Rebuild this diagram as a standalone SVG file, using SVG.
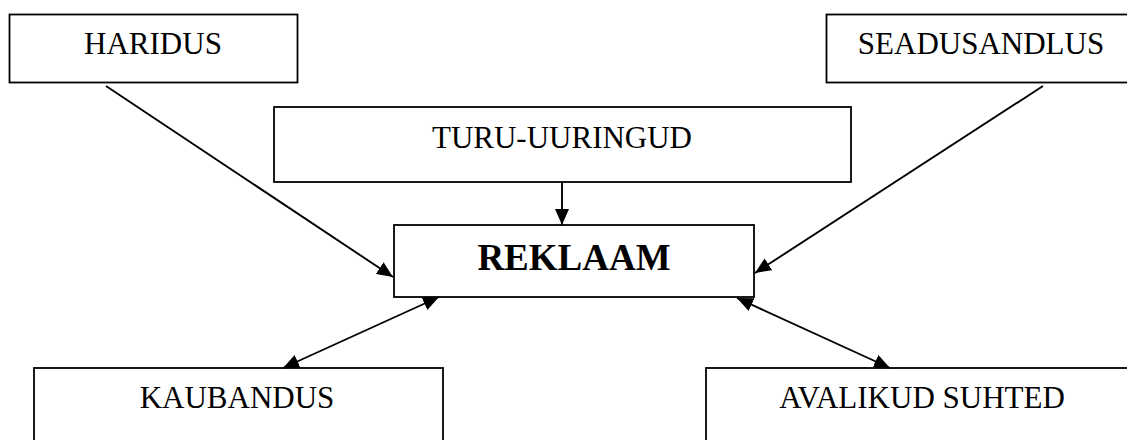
<svg xmlns="http://www.w3.org/2000/svg" width="1127" height="440" viewBox="0 0 1127 440">
<style>
.box{fill:#fff;stroke:#000;stroke-width:1.8}
.t{font-family:"Liberation Serif","Times New Roman",serif;font-size:31px;fill:#000;text-anchor:middle}
.b{font-weight:bold;font-size:37px}
.c{stroke:#000;stroke-width:1.9;fill:none}
</style>
<defs>
<marker id="ah" markerUnits="userSpaceOnUse" markerWidth="17" markerHeight="14" refX="16" refY="7" orient="auto-start-reverse">
<path d="M0,0 L16,7 L0,14 z" fill="#000"/>
</marker>
</defs>
<g id="haridus"><rect class="box" x="9.5" y="14.5" width="288" height="68"/><text class="t" x="153" y="54">HARIDUS</text></g>
<g id="seadusandlus"><rect class="box" x="826.5" y="14.5" width="320" height="68"/><text class="t" x="981" y="54">SEADUSANDLUS</text></g>
<g id="turu"><rect class="box" x="274" y="107" width="577" height="75"/><text class="t" x="562" y="148">TURU-UURINGUD</text></g>
<g id="reklaam"><rect class="box" x="394" y="225" width="360" height="72"/><text class="t b" x="574" y="270">REKLAAM</text></g>
<g id="kaubandus"><rect class="box" x="34" y="368" width="409" height="90"/><text class="t" x="237" y="408">KAUBANDUS</text></g>
<g id="avalikud"><rect class="box" x="706" y="368" width="440" height="90"/><text class="t" x="922" y="408">AVALIKUD SUHTED</text></g>
<g id="connectors">
<line class="c" x1="106" y1="86" x2="393" y2="277" marker-end="url(#ah)"/>
<line class="c" x1="1043" y1="86" x2="755" y2="273" marker-end="url(#ah)"/>
<line class="c" x1="562" y1="182" x2="562" y2="225" marker-end="url(#ah)"/>
<line class="c" x1="283" y1="368" x2="439" y2="297" marker-start="url(#ah)" marker-end="url(#ah)"/>
<line class="c" x1="737" y1="298" x2="890" y2="368" marker-start="url(#ah)" marker-end="url(#ah)"/>
</g>
</svg>
